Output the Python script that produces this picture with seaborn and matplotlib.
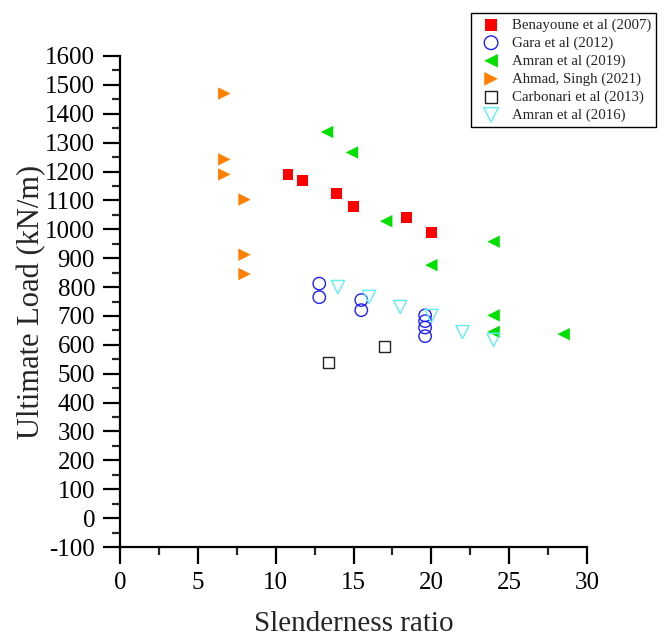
import matplotlib
matplotlib.use("Agg")
import matplotlib.pyplot as plt
import seaborn as sns
import pandas as pd
from matplotlib.ticker import MultipleLocator

# Data
benayoune_x = [10.8, 11.7, 13.9, 15.0, 18.4, 20.0]
benayoune_y = [1190, 1170, 1125, 1078, 1042, 988]

gara_x = [12.8, 12.8, 15.5, 15.5, 19.6, 19.6, 19.6, 19.6]
gara_y = [812, 765, 755, 720, 702, 682, 660, 630]

amran19_x = [13.3, 14.9, 17.1, 20.0, 24.0, 24.0, 24.0, 28.5]
amran19_y = [1337, 1266, 1028, 876, 957, 702, 645, 637]

ahmad_x = [6.7, 6.7, 6.7, 8.0, 8.0, 8.0]
ahmad_y = [1470, 1242, 1190, 1103, 912, 845]

carbonari_x = [13.4, 17.0]
carbonari_y = [538, 594]

amran16_x = [14.0, 16.0, 18.0, 20.0, 22.0, 24.0]
amran16_y = [800, 766, 731, 700, 644, 617]

labels = ["Benayoune et al (2007)", "Gara et al (2012)", "Amran et al (2019)",
          "Ahmad, Singh (2021)", "Carbonari et al (2013)", "Amran et al (2016)"]

sns.set_style("ticks")
plt.rcParams["font.family"] = ["Liberation Serif", "DejaVu Serif"]
plt.rcParams["axes.unicode_minus"] = False

fig = plt.figure(figsize=(6.67, 6.40), dpi=100)
ax = fig.add_axes([120 / 667, 1 - 547 / 640, (587 - 120) / 667, (547 - 56) / 640])

series = [
    (benayoune_x, benayoune_y, labels[0], "s", dict(color="#ff0000", edgecolor="none"), 60),
    (gara_x, gara_y, labels[1], "o", dict(facecolor="none", edgecolor="#2020ff", linewidth=1.0), 80),
    (amran19_x, amran19_y, labels[2], "<", dict(color="#00e000", edgecolor="none"), 80),
    (ahmad_x, ahmad_y, labels[3], ">", dict(color="#ff8000", edgecolor="none"), 80),
    (carbonari_x, carbonari_y, labels[4], "s", dict(facecolor="none", edgecolor="#222222", linewidth=1.0), 60),
    (amran16_x, amran16_y, labels[5], "v", dict(facecolor="none", edgecolor="#60f0f0", linewidth=1.0), 90),
]

for xs, ys, lab, mk, kw, size in series:
    df = pd.DataFrame({"x": xs, "y": ys})
    sns.scatterplot(data=df, x="x", y="y", marker=mk, s=size, label=lab, ax=ax, **kw)

ax.set_xlim(0, 30)
ax.set_ylim(-100, 1600)
ax.xaxis.set_major_locator(MultipleLocator(5))
ax.xaxis.set_minor_locator(MultipleLocator(2.5))
ax.yaxis.set_major_locator(MultipleLocator(100))
ax.yaxis.set_minor_locator(MultipleLocator(50))

for side in ["top", "right"]:
    ax.spines[side].set_visible(False)
for side in ["left", "bottom"]:
    ax.spines[side].set_linewidth(1.6)
    ax.spines[side].set_color("black")

ax.tick_params(which="major", direction="out", length=12, width=1.6, labelsize=18, pad=6, colors="black")
ax.tick_params(which="minor", direction="out", length=6, width=1.6)

ax.set_xlabel("Slenderness ratio", fontsize=21, labelpad=12)
ax.set_ylabel("Ultimate Load (kN/m)", fontsize=22, labelpad=-1)

leg = ax.legend(loc="upper left", bbox_to_anchor=(471 / 667, 1 - 13 / 640),
                bbox_transform=fig.transFigure, borderaxespad=0, fontsize=10.7,
                frameon=True, fancybox=False, edgecolor="black", framealpha=1,
                labelspacing=0.3, handletextpad=0.4, borderpad=0.35, handlelength=2.0,
                markerscale=1.1)
leg.get_frame().set_linewidth(1.0)

fig.savefig("out.png", dpi=100)
